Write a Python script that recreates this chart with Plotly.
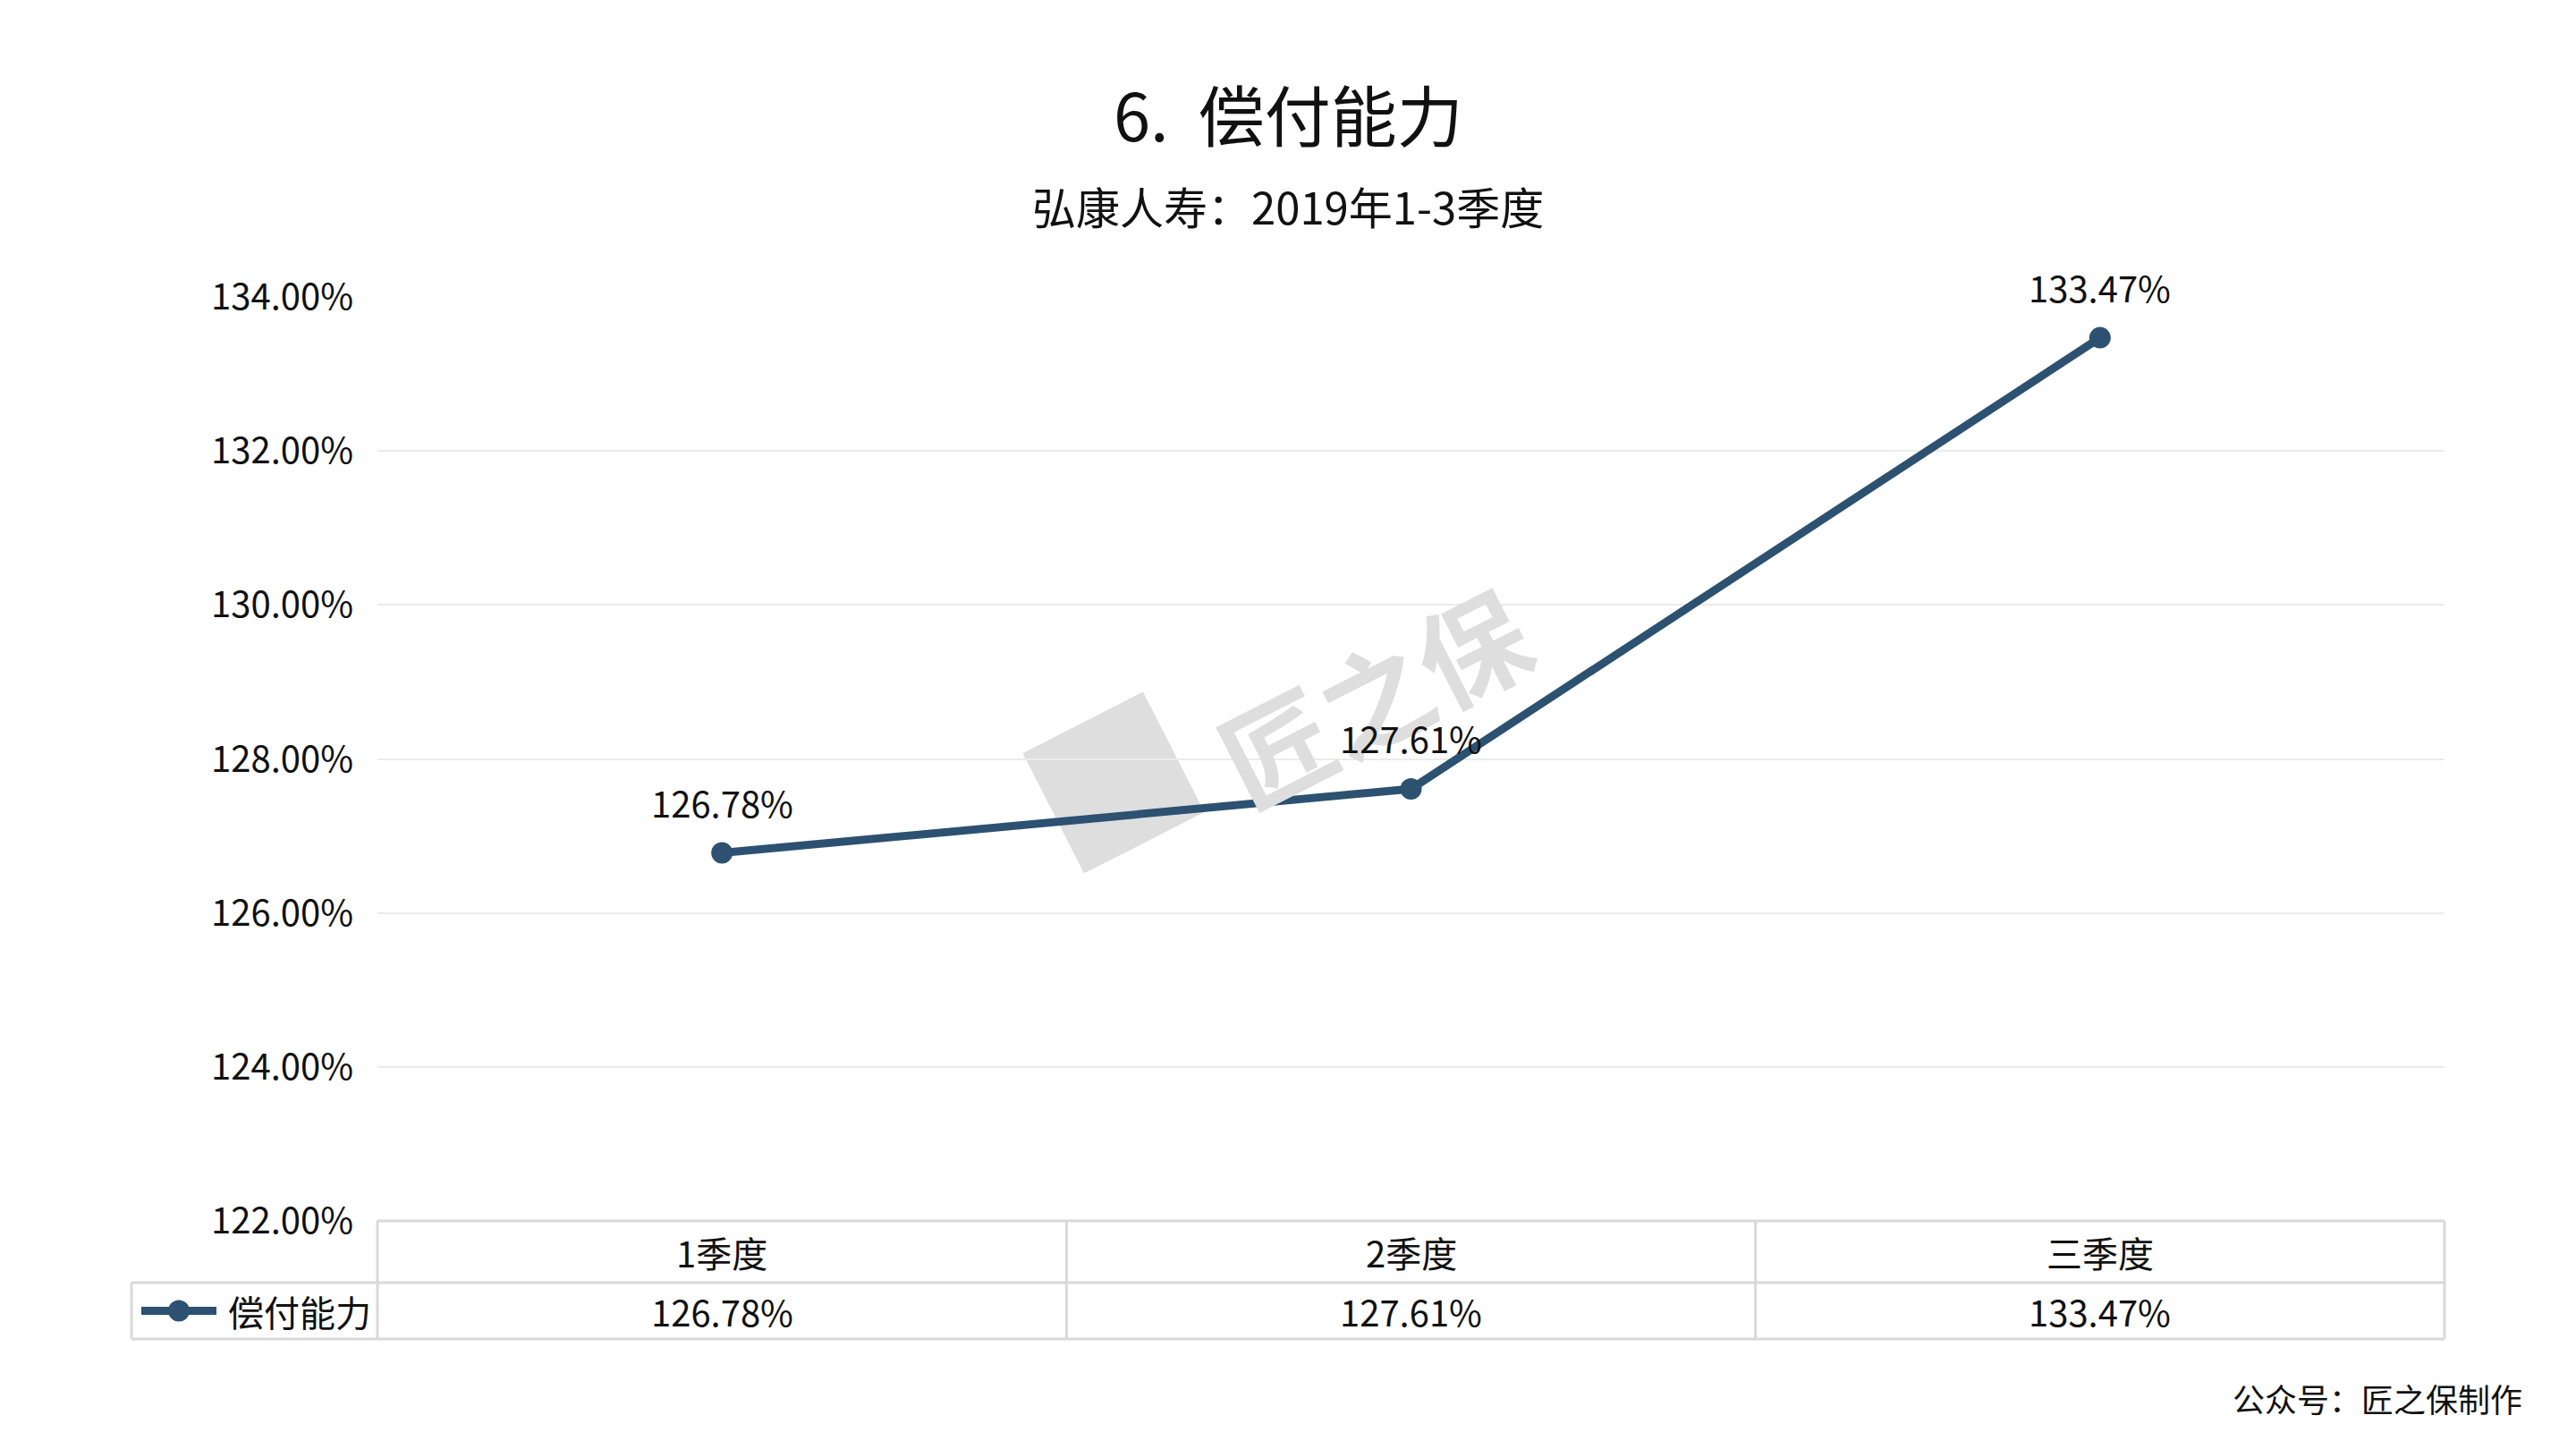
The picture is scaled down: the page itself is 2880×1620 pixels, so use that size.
import math
import plotly.graph_objects as go

# ---- data ----
categories = ["1季度", "2季度", "三季度"]
series_name = "偿付能力"
values = [126.78, 127.61, 133.47]
y_ticks = [122, 124, 126, 128, 130, 132, 134]

title_text = "6.  偿付能力"
subtitle_text = "弘康人寿：2019年1-3季度"
footer_text = "公众号：匠之保制作"
watermark_text = "匠之保"

LINE_COLOR = "#2c5171"
GRID_COLOR = "#ebebeb"
TABLE_COLOR = "#d9d9d9"
FONT = "Noto Sans CJK SC, Noto Sans, sans-serif"

OFF = 8                       # browser body margin
W, H = 2880 - 2 * OFF, 1620 - 2 * OFF
L, R = 422 - OFF, 2733 - OFF  # plot area left/right in figure px
T, B = 332 - OFF, 1365 - OFF  # plot area top/bottom in figure px


def px(x):
    """screen px -> paper x"""
    return (x - OFF - L) / (R - L)


def py(y):
    """screen px -> paper y"""
    return (B - (y - OFF)) / (B - T)


fig = go.Figure()

annotations = []
shapes = []

# ---- watermark (drawn first, behind everything) ----
annotations.append(dict(x=px(1535), y=py(775), xref="paper", yref="paper", text="<b>" + watermark_text + "</b>",
                        showarrow=False, textangle=-27, xanchor="center", yanchor="middle",
                        font=dict(family=FONT, size=122, color="#dedede")))
cx, cy, s = 1245, 875, 145
ang = math.radians(-27)
pts = []
for dx, dy in [(-1, -1), (1, -1), (1, 1), (-1, 1)]:
    x = dx * s / 2
    y = dy * s / 2
    xr = x * math.cos(ang) - y * math.sin(ang)
    yr = x * math.sin(ang) + y * math.cos(ang)
    pts.append((px(cx + xr), py(cy + yr)))
path = "M " + " L ".join(f"{a},{b}" for a, b in pts) + " Z"
shapes.append(dict(type="path", xref="paper", yref="paper", path=path,
                   fillcolor="#dedede", line=dict(color="#dedede", width=6), layer="below"))

fig.add_trace(go.Scatter(
    x=categories, y=values, mode="lines+markers", name=series_name,
    line=dict(color=LINE_COLOR, width=9),
    marker=dict(color=LINE_COLOR, size=24),
    cliponaxis=False, showlegend=False, hoverinfo="x+y",
))

# data labels
for c, v in zip(categories, values):
    annotations.append(dict(x=c, y=v, xref="x", yref="y", text=f"{v:.2f}%",
                            showarrow=False, yshift=57,
                            font=dict(family=FONT, size=40, color="#111111")))

# title / subtitle (centred on the whole figure)
annotations.append(dict(x=px(1440), y=py(125), xref="paper", yref="paper", text=title_text,
                        showarrow=False, xanchor="center", yanchor="middle",
                        font=dict(family=FONT, size=74, color="#111111")))
annotations.append(dict(x=px(1440), y=py(230), xref="paper", yref="paper", text=subtitle_text,
                        showarrow=False, xanchor="center", yanchor="middle",
                        font=dict(family=FONT, size=49, color="#111111")))

# ---- data table under the plot ----
top_s = 1365
row1_bot = 1434
row2_bot = 1497
leg_left = 147
L_s, R_s = 422, 2733
n = len(categories)
col_edges = [L_s + (R_s - L_s) * i / n for i in range(n + 1)]

line_style = dict(color=TABLE_COLOR, width=3)
shapes.append(dict(type="line", xref="paper", yref="paper", x0=px(L_s), x1=px(R_s), y0=py(top_s), y1=py(top_s), line=line_style))
shapes.append(dict(type="line", xref="paper", yref="paper", x0=px(leg_left), x1=px(R_s), y0=py(row1_bot), y1=py(row1_bot), line=line_style))
shapes.append(dict(type="line", xref="paper", yref="paper", x0=px(leg_left), x1=px(R_s), y0=py(row2_bot), y1=py(row2_bot), line=line_style))
for xe in col_edges:
    shapes.append(dict(type="line", xref="paper", yref="paper", x0=px(xe), x1=px(xe), y0=py(top_s), y1=py(row2_bot), line=line_style))
shapes.append(dict(type="line", xref="paper", yref="paper", x0=px(leg_left), x1=px(leg_left), y0=py(row1_bot), y1=py(row2_bot), line=line_style))

for c, v in zip(categories, values):
    annotations.append(dict(x=c, y=py((top_s + row1_bot) / 2), xref="x", yref="paper", text=c,
                            showarrow=False, yanchor="middle",
                            font=dict(family=FONT, size=40, color="#111111")))
    annotations.append(dict(x=c, y=py((row1_bot + row2_bot) / 2), xref="x", yref="paper", text=f"{v:.2f}%",
                            showarrow=False, yanchor="middle",
                            font=dict(family=FONT, size=40, color="#111111")))

# legend key in table
ym = py((row1_bot + row2_bot) / 2)
shapes.append(dict(type="line", xref="paper", yref="paper", x0=px(158), x1=px(242), y0=ym, y1=ym,
                   line=dict(color=LINE_COLOR, width=9)))
shapes.append(dict(type="circle", xref="paper", yref="paper",
                   x0=px(200 - 12), x1=px(200 + 12), y0=ym - 12 / (B - T), y1=ym + 12 / (B - T),
                   fillcolor=LINE_COLOR, line=dict(width=0)))
annotations.append(dict(x=px(253), y=ym, xref="paper", yref="paper", text=series_name,
                        showarrow=False, xanchor="left", yanchor="middle",
                        font=dict(family=FONT, size=40, color="#111111")))

# footer
annotations.append(dict(x=px(2822), y=py(1563), xref="paper", yref="paper", text=footer_text,
                        showarrow=False, xanchor="right", yanchor="middle",
                        font=dict(family=FONT, size=36, color="#111111")))

fig.update_layout(
    width=W, height=H,
    margin=dict(l=L, r=W - R, t=T, b=H - B, pad=0),
    paper_bgcolor="white", plot_bgcolor="white",
    font=dict(family=FONT, size=40, color="#111111"),
    showlegend=False,
    annotations=annotations, shapes=shapes,
    xaxis=dict(type="category", range=[-0.5, len(categories) - 0.5], showticklabels=False,
               showgrid=False, zeroline=False, showline=False, ticks=""),
    yaxis=dict(range=[y_ticks[0], y_ticks[-1]], tickvals=y_ticks,
               ticktext=[f"{t:.2f}%" for t in y_ticks],
               tickfont=dict(family=FONT, size=40, color="#111111"),
               showgrid=True, gridcolor=GRID_COLOR, gridwidth=2,
               zeroline=False, showline=False, ticks="", ticklabelstandoff=26),
)

fig.write_html("out.html")
